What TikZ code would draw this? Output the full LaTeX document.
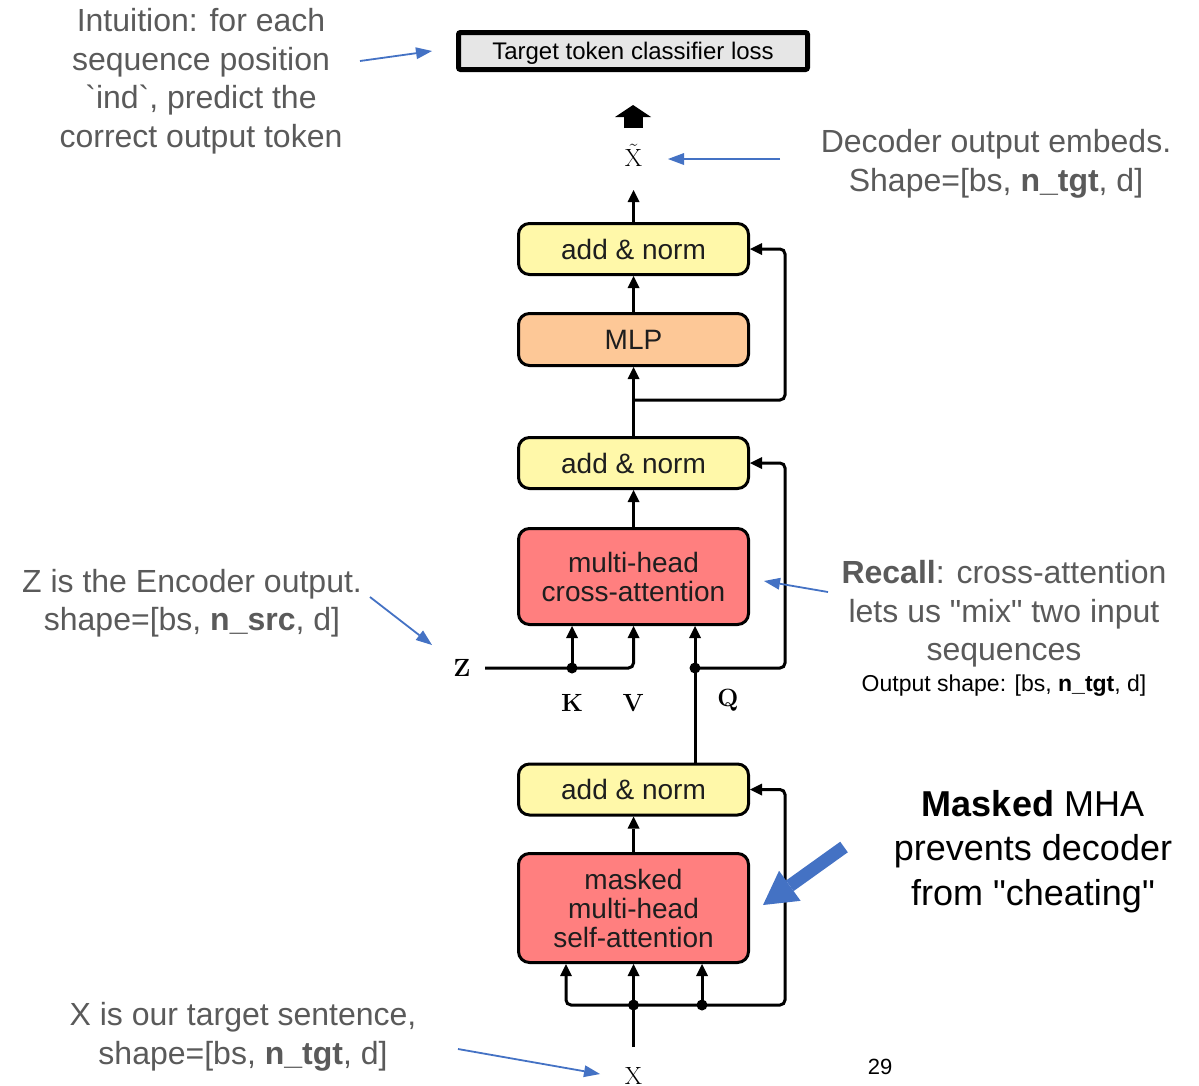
\documentclass[tikz,border=0pt]{standalone}
\usepackage[no-math]{fontspec}
\setmainfont{Liberation Sans}
% plain family without TeX ligature mapping, so quotes and backticks stay straight
\newfontfamily\notesans{Liberation Sans}
\usetikzlibrary{arrows.meta}

\definecolor{yel}{HTML}{FFF8A9}
\definecolor{org}{HTML}{FDC897}
\definecolor{rd}{HTML}{FF7F7F}
\definecolor{lossgray}{HTML}{E6E6E6}
\definecolor{notegray}{HTML}{5A5A5A}
\definecolor{ptrblue}{HTML}{4472C4}
\definecolor{boxtext}{HTML}{1E1E1E}

\tikzset{
  blk/.style={draw=black, line width=3pt, rounded corners=11pt, minimum width=230pt,
    text=boxtext, font=\notesans\fontsize{28}{29}\selectfont, align=center, inner sep=0pt},
  addnorm/.style={blk, fill=yel, minimum height=51pt},
  arr/.style={line width=3pt, -{Triangle[length=12pt,width=12pt,line width=0pt]}},
  wire/.style={line width=3pt},
  jdot/.style={circle, fill=black, inner sep=0pt, minimum size=11pt},
  note/.style={text=notegray, font=\notesans\fontsize{32}{38.5}\selectfont, align=center},
  ptr/.style={draw=ptrblue, line width=1.8pt, -{Triangle[length=16pt,width=12pt,line width=0pt]}},
  sym/.style={inner sep=0pt, font=\fontsize{24}{24}\selectfont},
}

\begin{document}
\begin{tikzpicture}[x=1pt,y=-1pt]
\useasboundingbox (0,0) rectangle (1199,1085);

% ---- decoder blocks ----
\node[draw=black, line width=5pt, rounded corners=2pt, fill=lossgray, minimum width=349pt,
  minimum height=37pt, inner sep=0pt, text depth=0pt, font=\notesans\fontsize{24}{24}\selectfont]
  (loss) at (633,51) {Target token classifier loss};

\node[addnorm] (an1) at (633.5,249) {add \& norm};
\node[blk, fill=org, minimum height=52pt] (mlp) at (633.5,339.5) {MLP};
\node[addnorm] (an2) at (633.5,463) {add \& norm};
\node[blk, fill=rd, minimum height=96pt] (ca) at (633.5,576.5) {multi-head\\cross-attention};
\node[addnorm] (an3) at (633.5,789.5) {add \& norm};
\node[blk, fill=rd, minimum height=109pt] (ms) at (633.5,908) {masked\\multi-head\\self-attention};

% ---- symbols ----
\node[sym] (xt) at (633.5,155) {$\tilde{\mathrm{X}}$};
\node[sym] (z) at (462,668) {$\mathbf{Z}$};
\node[sym] (k) at (572,703) {$\mathbf{K}$};
\node[sym] (v) at (633.5,703) {$\mathbf{V}$};
\node[sym] (q) at (728,700) {$\mathbf{Q}$};
\node[sym] (x) at (633.5,1075.5) {$\mathrm{X}$};

% ---- junctions and corner points ----
\coordinate (xte) at (633.5,190);
\coordinate (br1) at (633.5,400);
\coordinate (r1) at (785,249);
\coordinate (r2) at (785,463);
\coordinate (r3) at (785,789.5);
\coordinate (zs) at (485,668);
\coordinate (kj) at (572,668);
\coordinate (qj) at (695,668);
\coordinate (xs) at (633.5,1047);
\coordinate (bj) at (633.5,1005);
\coordinate (dj) at (702,1005);
\coordinate (bl) at (566,1005);

% ---- main data path ----
\draw[arr] (an1.north) -- (xte);
\draw[arr] (mlp.north) -- (an1.south);
\draw[arr] (an2.north) -- (mlp.south);
\draw[arr, rounded corners=5pt] (br1) -| (r1) -- (an1.east);
\draw[arr] (ca.north) -- (an2.south);
\draw[arr, rounded corners=5pt] (qj) -| (r2) -- (an2.east);
\draw[arr] (qj |- an3.north) -- (qj |- ca.south);
\draw[arr, rounded corners=5pt] (zs) -| (ca.south);
\draw[arr] (kj) -- (kj |- ca.south);
\draw[arr] (ms.north) -- (an3.south);
\draw[wire] (xs) -- (bj);
\draw[arr] (bj) -- (ms.south);
\draw[arr, rounded corners=5pt] (bj) -| (bl |- ms.south);
\draw[arr] (dj) -- (dj |- ms.south);
\draw[arr, rounded corners=5pt] (bj) -- (dj) -| (r3) -- (an3.east);
\node[jdot] at (kj) {};
\node[jdot] at (qj) {};
\node[jdot] at (bj) {};
\node[jdot] at (dj) {};

% ---- output block arrow ----
\coordinate (ta1) at (633,128);
\coordinate (ta2) at (633,105);
\draw[line width=19pt, -{Triangle[length=12pt,width=36pt,line width=0pt]}] (ta1) -- (ta2);

% ---- annotations ----
\node[note] (intu) at (201,81) {Intuition: for each\\sequence position\\`ind`, predict the\\correct output token};
\node[note] (dec) at (996,164) {Decoder output embeds.\\Shape=[bs, \textbf{n\_tgt}, d]};
\node[note] (zinfo) at (192,603) {Z is the Encoder output.\\shape=[bs, \textbf{n\_src}, d]};
\node[note] (recall) at (1004,614) {\textbf{Recall}: cross-attention\\lets us "mix" two input\\sequences};
\node[font=\notesans\fontsize{23}{26}\selectfont, text=black] (oshape) at (1004,686) {Output shape: [bs, \textbf{n\_tgt}, d]};
\node[font=\notesans\fontsize{36}{44.5}\selectfont, align=center, text=black] (mha) at (1033,851.5)
  {{\bfseries Masked} MHA\\prevents decoder\\from "cheating"};
\node[note] (xinfo) at (243,1037) {X is our target sentence,\\shape=[bs, \textbf{n\_tgt}, d]};
\node[font=\notesans\fontsize{22}{22}\selectfont, text=black] (pg) at (880,1067) {29};

% ---- pointers ----
\coordinate (p1s) at (360,61);   \coordinate (p1e) at (432,51);
\coordinate (p2s) at (780,159);  \coordinate (p2e) at (668,159);
\coordinate (p3s) at (370,597);  \coordinate (p3e) at (432,645);
\coordinate (p4s) at (828,592);  \coordinate (p4e) at (764,581);
\coordinate (p5s) at (458,1049); \coordinate (p5e) at (600,1074);
\draw[ptr] (p1s) -- (p1e);
\draw[ptr] (p2s) -- (p2e);
\draw[ptr] (p3s) -- (p3e);
\draw[ptr] (p4s) -- (p4e);
\draw[ptr] (p5s) -- (p5e);
\coordinate (mb1) at (844,847);
\coordinate (mb2) at (763,905);
\draw[ptrblue, line width=13pt, -{Triangle[length=33pt,width=37pt,line width=0pt]}] (mb1) -- (mb2);
\end{tikzpicture}
\end{document}
